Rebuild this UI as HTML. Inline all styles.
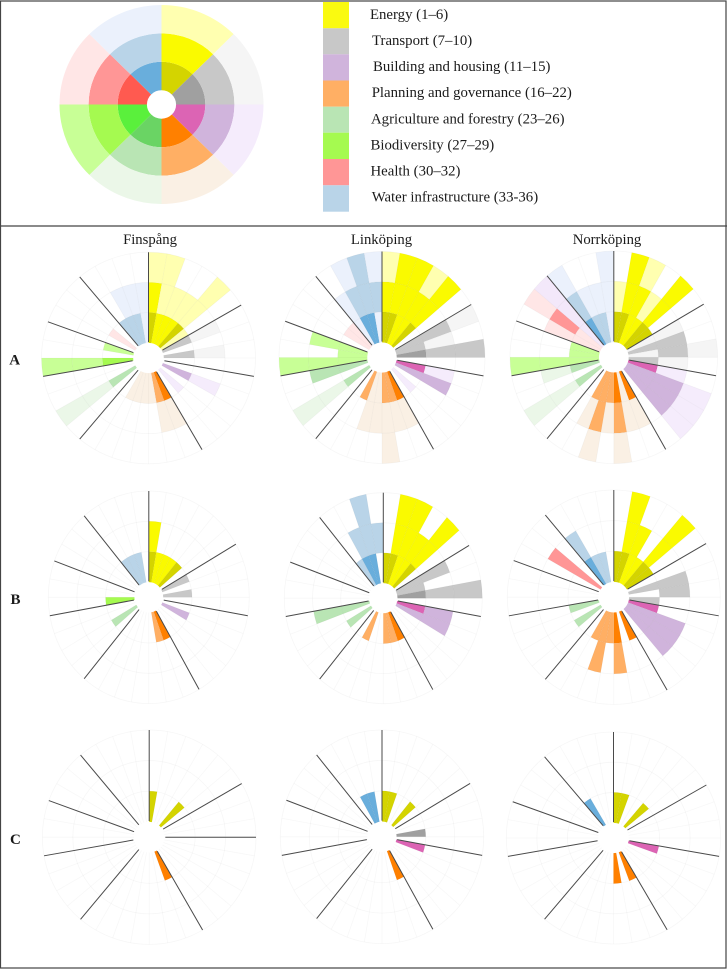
<!DOCTYPE html>
<html>
<head>
<meta charset="utf-8">
<style>
html,body{margin:0;padding:0;background:#fff;}
svg{display:block;}
text{font-family:"Liberation Serif",serif;fill:#1a1a1a;}
</style>
</head>
<body>
<svg id="fig" xmlns="http://www.w3.org/2000/svg" width="727" height="969" viewBox="0 0 727 969">
  <rect x="0.5" y="1" width="725.5" height="967" fill="#fff" stroke="#444" stroke-width="1.2"/>
  <line x1="0" y1="226" x2="727" y2="226" stroke="#444" stroke-width="1.2"/>
  <g id="key"></g>
  <g>
    <rect x="323" y="2" width="26" height="26.3" fill="#fafa10"/>
    <rect x="323" y="28.3" width="26" height="26" fill="#c8c8c8"/>
    <rect x="323" y="54.3" width="26" height="26.2" fill="#d0b4dc"/>
    <rect x="323" y="80.5" width="26" height="26.2" fill="#ffaf64"/>
    <rect x="323" y="106.7" width="26" height="26" fill="#b9e5b4"/>
    <rect x="323" y="132.7" width="26" height="26.3" fill="#a5fa50"/>
    <rect x="323" y="159" width="26" height="26.3" fill="#ff9696"/>
    <rect x="323" y="185.3" width="26" height="26.4" fill="#b9d4e8"/>
    <text x="370" y="19" font-size="14.8">Energy (1–6)</text>
    <text x="372" y="45" font-size="14.8">Transport (7–10)</text>
    <text x="373" y="71" font-size="14.8">Building and housing (11–15)</text>
    <text x="371.7" y="97" font-size="14.8">Planning and governance (16–22)</text>
    <text x="371" y="123.3" font-size="14.8">Agriculture and forestry (23–26)</text>
    <text x="370.5" y="149.5" font-size="14.8">Biodiversity (27–29)</text>
    <text x="370.5" y="175.7" font-size="14.8">Health (30–32)</text>
    <text x="371.7" y="201.7" font-size="14.8">Water infrastructure (33-36)</text>
  </g>
  <text x="150" y="244" font-size="14.7" text-anchor="middle">Finspång</text>
  <text x="381.5" y="244" font-size="14.7" text-anchor="middle">Linköping</text>
  <text x="607" y="244" font-size="14.7" text-anchor="middle">Norrköping</text>
  <text x="9.3" y="364.5" font-size="15" font-weight="bold">A</text>
  <text x="10.5" y="604" font-size="15" font-weight="bold">B</text>
  <text x="10" y="844" font-size="15" font-weight="bold">C</text>
  <g id="panels"></g>
</svg>
<script>
// Categories and how many 10-degree sectors each holds
const categories = ['energy','transport','building','planning','agriculture','biodiversity','health','water'];
const categorySizes = [6,4,5,7,4,3,3,4];
// Cell levels: 0 none, 1 pale, 2 medium, 3 strong, 4 lilac-coded cell
const paleColours = ['#ffffb0','#f5f5f5','#f5ecfc','#faf0e4','#ebf7e8','#c8ff96','#ffe6e6','#ebf1fc'];
const midColours = ['#fafa00','#c8c8c8','#d0b4dc','#ffaf64','#b9e5b4','#a5fa50','#ff9696','#b9d4e8'];
const darkColours = ['#d4d400','#a0a0a0','#dc64b4','#ff8000','#6ad464','#5af03c','#ff5a50','#69aedc'];
const lilacColour = '#f3e8fa';

// Panel A
const finspangA_inner = [3,2,2,2,3,1, 2,0,2,0, 0,2,0,1,0, 3,2,1,1,1,1,0, 0,2,0,0, 2,0,1, 0,1,0, 2,2,2,1];
const finspangA_mid   = [2,1,1,1,1,0, 1,0,1,0, 0,1,0,0,0, 1,1,0,0,0,0,0, 0,1,0,0, 1,0,0, 0,0,0, 0,1,1,1];
const finspangA_outer = [1,1,0,0,1,0, 0,0,0,0, 0,0,0,0,0, 0,0,0,0,0,0,0, 0,1,0,0, 1,0,0, 0,0,0, 0,0,0,0];
const linkopingA_inner = [3,3,2,2,3,0, 2,2,3,0, 3,2,0,1,0, 3,2,2,1,1,2,0, 0,2,0,2, 1,1,1, 0,1,1, 1,3,3,1];
const linkopingA_mid   = [2,2,2,2,2,0, 2,1,2,0, 1,2,0,0,0, 1,1,1,1,1,0,0, 0,1,0,2, 1,0,1, 0,0,0, 1,2,2,2];
const linkopingA_outer = [1,2,2,1,2,0, 1,0,2,0, 0,0,0,0,0, 0,0,1,0,0,0,0, 0,1,0,0, 1,0,0, 0,0,0, 0,1,2,1];
const norrkopingA_inner = [3,3,2,2,3,3, 1,2,1,2, 3,2,2,2,0, 3,1,3,2,2,2,0, 0,2,0,2, 1,1,1, 1,1,4, 3,2,2,1];
const norrkopingA_mid   = [1,2,2,1,2,0, 1,2,2,1, 1,2,2,2,0, 1,1,2,1,2,1,0, 0,1,0,1, 1,0,0, 1,2,4, 2,1,1,1];
const norrkopingA_outer = [0,2,1,0,2,0, 0,0,1,0, 0,1,1,1,0, 0,0,1,0,1,0,0, 0,1,0,0, 1,0,0, 0,1,4, 1,0,0,1];
// Panel B
const finspangB_inner = [3,2,2,2,3,0, 2,0,2,0, 0,2,0,0,0, 3,2,0,0,0,0,0, 0,2,0,0, 2,0,0, 0,0,0, 2,2,2,0];
const finspangB_mid   = [2,0,0,0,0,0, 0,0,0,0, 0,0,0,0,0, 0,0,0,0,0,0,0, 0,0,0,0, 0,0,0, 0,0,0, 0,0,0,0];
const finspangB_outer = [0,0,0,0,0,0, 0,0,0,0, 0,0,0,0,0, 0,0,0,0,0,0,0, 0,0,0,0, 0,0,0, 0,0,0, 0,0,0,0];
const linkopingB_inner = [3,3,2,2,3,0, 2,2,3,0, 3,2,0,0,0, 3,2,2,0,0,2,0, 0,2,0,2, 0,0,0, 0,0,0, 2,3,3,0];
const linkopingB_mid   = [0,2,2,2,2,0, 2,0,2,0, 2,2,0,0,0, 0,0,0,0,0,0,0, 0,0,0,2, 0,0,0, 0,0,0, 0,2,2,2];
const linkopingB_outer = [0,2,2,0,2,0, 0,0,2,0, 0,0,0,0,0, 0,0,0,0,0,0,0, 0,0,0,0, 0,0,0, 0,0,0, 0,0,2,0];
const norrkopingB_inner = [3,3,2,2,3,3, 0,2,0,2, 3,2,2,2,0, 3,0,3,2,2,2,0, 0,2,0,2, 0,0,0, 0,2,0, 3,2,2,0];
const norrkopingB_mid   = [0,2,2,0,2,0, 0,2,2,0, 0,2,2,2,0, 0,0,2,0,2,0,0, 0,0,0,0, 0,0,0, 0,2,0, 2,0,0,0];
const norrkopingB_outer = [0,2,0,0,2,0, 0,0,0,0, 0,0,0,0,0, 0,0,0,0,0,0,0, 0,0,0,0, 0,0,0, 0,0,0, 0,0,0,0];
// Panel C
const finspangC_inner = [3,0,0,0,3,0, 0,0,0,0, 0,0,0,0,0, 3,0,0,0,0,0,0, 0,0,0,0, 0,0,0, 0,0,0, 0,0,0,0];
const linkopingC_inner = [3,3,0,0,3,0, 0,0,3,0, 3,0,0,0,0, 3,0,0,0,0,0,0, 0,0,0,0, 0,0,0, 0,0,0, 0,3,3,0];
const norrkopingC_inner = [3,3,0,0,3,0, 0,0,0,0, 3,0,0,0,0, 3,0,3,0,0,0,0, 0,0,0,0, 0,0,0, 0,0,0, 3,0,0,0];
const emptyRing = [0,0,0,0,0,0, 0,0,0,0, 0,0,0,0,0, 0,0,0,0,0,0,0, 0,0,0,0, 0,0,0, 0,0,0, 0,0,0,0];

// Divider angles (degrees clockwise from top)
const standardDividers = [0,60,100,150,220,260,290,320];
const finspangCDividers = [0,60,90,150,220,260,290,320];

const RING_EDGES = [0.143,0.43,0.715,1];
const SVG_NS = 'http://www.w3.org/2000/svg';

function sectorCategory(i){
  let n = 0;
  for (let c = 0; c < categorySizes.length; c++){
    n += categorySizes[c];
    if (i < n) return c;
  }
  return categorySizes.length - 1;
}
function levelColour(cat, level){
  if (level === 1) return paleColours[cat];
  if (level === 2) return midColours[cat];
  if (level === 3) return darkColours[cat];
  if (level === 4) return lilacColour;
  return 'none';
}
function px(p, r, deg){ return p.cx + p.rx * r * Math.sin(deg * Math.PI / 180); }
function py(p, r, deg){ return p.cy - p.ry * r * Math.cos(deg * Math.PI / 180); }
function wedgePath(p, r0, r1, a0, a1){
  const big = (a1 - a0) > 180 ? 1 : 0;
  return 'M' + px(p,r0,a0).toFixed(2) + ' ' + py(p,r0,a0).toFixed(2) +
    'L' + px(p,r1,a0).toFixed(2) + ' ' + py(p,r1,a0).toFixed(2) +
    'A' + (p.rx*r1).toFixed(2) + ' ' + (p.ry*r1).toFixed(2) + ' 0 ' + big + ' 1 ' + px(p,r1,a1).toFixed(2) + ' ' + py(p,r1,a1).toFixed(2) +
    'L' + px(p,r0,a1).toFixed(2) + ' ' + py(p,r0,a1).toFixed(2) +
    'A' + (p.rx*r0).toFixed(2) + ' ' + (p.ry*r0).toFixed(2) + ' 0 ' + big + ' 0 ' + px(p,r0,a0).toFixed(2) + ' ' + py(p,r0,a0).toFixed(2) + 'Z';
}

// Key wheel: three rings, one 45-degree wedge per category
const keyGroup = document.getElementById('key');
const keyFrame = {cx:161.5, cy:104.5, rx:102, ry:99.5};
const keyRings = [darkColours, midColours, paleColours];
keyRings.forEach(function(ringColours, ringIndex){
  categories.forEach(function(cat, c){
    const w = document.createElementNS(SVG_NS, 'path');
    w.setAttribute('d', wedgePath(keyFrame, RING_EDGES[ringIndex], RING_EDGES[ringIndex+1], c*45, (c+1)*45));
    w.setAttribute('fill', ringColours[c]);
    
    
    keyGroup.appendChild(w);
  });
});

const panels = [
  {name:'finspang-a', cx:148.5, cy:358, rx:107, ry:105.8, rings:[finspangA_inner,finspangA_mid,finspangA_outer], dividers:standardDividers},
  {name:'linkoping-a', cx:382, cy:357.5, rx:103, ry:106, rings:[linkopingA_inner,linkopingA_mid,linkopingA_outer], dividers:standardDividers},
  {name:'norrkoping-a', cx:613.8, cy:357.3, rx:103.8, ry:106.3, rings:[norrkopingA_inner,norrkopingA_mid,norrkopingA_outer], dividers:standardDividers},
  {name:'finspang-b', cx:148.8, cy:597.3, rx:100.5, ry:106.3, rings:[finspangB_inner,finspangB_mid,finspangB_outer], dividers:standardDividers},
  {name:'linkoping-b', cx:383.3, cy:598.2, rx:99, ry:105.5, rings:[linkopingB_inner,linkopingB_mid,linkopingB_outer], dividers:standardDividers},
  {name:'norrkoping-b', cx:613.8, cy:597.2, rx:106.5, ry:107.2, rings:[norrkopingB_inner,norrkopingB_mid,norrkopingB_outer], dividers:standardDividers},
  {name:'finspang-c', cx:149.2, cy:837.2, rx:106.8, ry:107.2, rings:[finspangC_inner,emptyRing,emptyRing], dividers:finspangCDividers},
  {name:'linkoping-c', cx:382, cy:836.8, rx:101.7, ry:106.8, rings:[linkopingC_inner,emptyRing,emptyRing], dividers:standardDividers},
  {name:'norrkoping-c', cx:613.5, cy:838, rx:107.2, ry:106, rings:[norrkopingC_inner,emptyRing,emptyRing], dividers:standardDividers}
];

const panelsGroup = document.getElementById('panels');
panels.forEach(function(p){
  const g = document.createElementNS(SVG_NS, 'g');
  
  
  panelsGroup.appendChild(g);

  // Cells
  p.rings.forEach(function(ring, r){
    ring.forEach(function(level, i){
      if (!level) return;
      const cat = sectorCategory(i);
      const cell = document.createElementNS(SVG_NS, 'path');
      cell.setAttribute('d', wedgePath(p, RING_EDGES[r], RING_EDGES[r+1], i*10, (i+1)*10));
      cell.setAttribute('fill', levelColour(cat, level));
      
      
      g.appendChild(cell);
    });
  });

  // Grid rings
  RING_EDGES.slice(1).forEach(function(edge, k){
    const e = document.createElementNS(SVG_NS, 'ellipse');
    e.setAttribute('cx', p.cx);
    e.setAttribute('cy', p.cy);
    e.setAttribute('rx', p.rx * edge);
    e.setAttribute('ry', p.ry * edge);
    e.setAttribute('fill', 'none');
    e.setAttribute('stroke', 'rgba(0,0,0,0.035)');
    e.setAttribute('stroke-width', '0.8');
    
    
    g.appendChild(e);
  });
  // Grid spokes
  for (let a = 0; a < 360; a += 10){
    const s = document.createElementNS(SVG_NS, 'line');
    s.setAttribute('x1', px(p,RING_EDGES[0],a));
    s.setAttribute('y1', py(p,RING_EDGES[0],a));
    s.setAttribute('x2', px(p,1,a));
    s.setAttribute('y2', py(p,1,a));
    s.setAttribute('stroke', 'rgba(0,0,0,0.03)');
    s.setAttribute('stroke-width', '0.8');
    
    
    g.appendChild(s);
  }
  // Group dividers
  p.dividers.forEach(function(a){
    const d = document.createElementNS(SVG_NS, 'line');
    d.setAttribute('x1', px(p,RING_EDGES[0]+0.008,a));
    d.setAttribute('y1', py(p,RING_EDGES[0]+0.008,a));
    d.setAttribute('x2', px(p,1,a));
    d.setAttribute('y2', py(p,1,a));
    d.setAttribute('stroke', '#4a4a4a');
    d.setAttribute('stroke-width', '1');
    
    
    g.appendChild(d);
  });
});
</script>
</body>
</html>
